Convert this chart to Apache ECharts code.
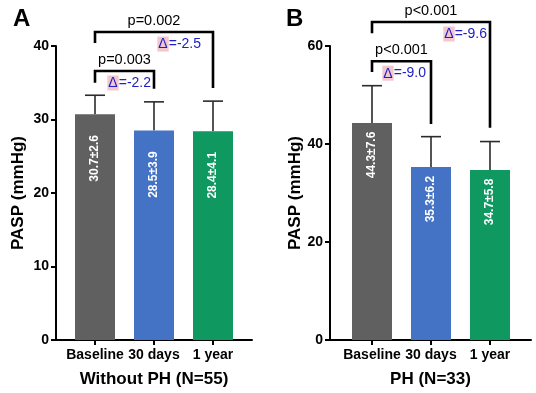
<!DOCTYPE html>
<html>
<head>
<meta charset="utf-8">
<script src="https://cdn.jsdelivr.net/npm/echarts@6/dist/echarts.min.js"></script>
<style>html,body{margin:0;padding:0;background:#fff}#c{width:536px;height:393px}</style>
</head>
<body>
<div id="c"></div>
<script>
// ---- data ----
var categories = ['Baseline', '30 days', '1 year'];
var meanA = [30.7, 28.5, 28.4];
var sdA = [2.6, 3.9, 4.1];
var meanB = [44.3, 35.3, 34.7];
var sdB = [7.6, 6.2, 5.8];
var barColors = ['#606060', '#4472c4', '#0f9960'];
var yTicksA = [0, 10, 20, 30, 40];
var yTicksB = [0, 20, 40, 60];
var titleA = 'Without PH (N=55)';
var titleB = 'PH (N=33)';
// comparisons: from index, to index, p text, delta text
var compFromA = [0, 0], compToA = [1, 2], compPA = ['p=0.003', 'p=0.002'], compDeltaA = ['-2.2', '-2.5'];
var compFromB = [0, 0], compToB = [1, 2], compPB = ['p<0.001', 'p<0.001'], compDeltaB = ['-9.0', '-9.6'];

// ---- layout (not data) ----
var FONT = '"Liberation Sans", Arial, sans-serif';
var bracketA = [ {top: 36.6, lb: 35.0, rb: 34.2, gap: 3}, {top: 41.9, lb: 40.4, rb: 34.3, gap: 12} ];
var bracketB = [ {top: 56.9, lb: 54.7, rb: 44.1, gap: 5}, {top: 64.9, lb: 62.6, rb: 43.3, gap: 3} ];

function fmt(m, s) { return m.toFixed(1) + '±' + s.toFixed(1); }

function makeBars(mean, sd, idx, labelOffset) {
  return {
    type: 'bar', xAxisIndex: idx, yAxisIndex: idx, barWidth: 40, silent: true,
    data: mean.map(function (v, i) {
      return { value: [i, v], itemStyle: { color: barColors[i] } };
    }),
    label: {
      show: true, rotate: 90, position: ['50%', labelOffset], align: 'center', verticalAlign: 'middle',
      color: '#fff', fontSize: 12, fontWeight: 'bold', fontFamily: FONT,
      formatter: function (p) { return fmt(mean[p.dataIndex], sd[p.dataIndex]); }
    },
    z: 2
  };
}

function makeErr(mean, sd, idx) {
  return {
    type: 'custom', xAxisIndex: idx, yAxisIndex: idx, silent: true, z: 1,
    data: mean.map(function (v, i) { return [i, v, v + sd[i]]; }),
    renderItem: function (params, api) {
      var b = api.coord([api.value(0), api.value(1)]);
      var t = api.coord([api.value(0), api.value(2)]);
      var st = { stroke: '#2b2b2b', lineWidth: 1.6 };
      return { type: 'group', children: [
        { type: 'line', shape: { x1: b[0], y1: b[1], x2: t[0], y2: t[1] }, style: st },
        { type: 'line', shape: { x1: t[0] - 10, y1: t[1], x2: t[0] + 10, y2: t[1] }, style: st }
      ]};
    }
  };
}

function makeBrackets(from, to, ptxt, dtxt, br, idx) {
  return {
    type: 'custom', xAxisIndex: idx, yAxisIndex: idx, silent: true, z: 5, clip: false,
    data: from.map(function (f, i) { return [f, to[i], br[i].top, br[i].lb, br[i].rb]; }),
    renderItem: function (params, api) {
      var i = params.dataIndex;
      var f = api.value(0), t = api.value(1);
      var p1 = api.coord([f, api.value(3)]);
      var p2 = api.coord([f, api.value(2)]);
      var p3 = api.coord([t, api.value(2)]);
      var p4 = api.coord([t, api.value(4)]);
      return { type: 'group', children: [
        { type: 'polyline', shape: { points: [p1, p2, p3, p4] },
          style: { stroke: '#000', lineWidth: 2.6, fill: null, lineJoin: 'miter' } },
        { type: 'text', x: (p2[0] + p3[0]) / 2, y: p2[1] - 11,
          style: { text: ptxt[i], fill: '#000', font: '14.5px ' + FONT, align: 'center', verticalAlign: 'middle' } },
        { type: 'text', x: p3[0] - br[i].gap, y: p2[1] + 12,
          style: { text: '{d|Δ}{t|=' + dtxt[i] + '}', align: 'right', verticalAlign: 'middle',
            rich: {
              d: { fill: '#2020c8', backgroundColor: '#f4c6cd', font: '14px ' + FONT, padding: [1, 1, 0, 1] },
              t: { fill: '#2020c8', font: '14px ' + FONT }
            } } }
      ]};
    }
  };
}

function xAxis(idx, min, max, name) {
  return {
    type: 'value', gridIndex: idx, min: min, max: max,
    name: name, nameLocation: 'middle', nameGap: 31,
    nameTextStyle: { fontSize: 17, fontWeight: 'bold', color: '#000', fontFamily: FONT },
    axisLine: { show: true, onZero: false, lineStyle: { color: '#000', width: 2 } },
    axisTick: { show: true, length: 5, lineStyle: { color: '#000', width: 2 }, customValues: [0, 1, 2] },
    axisLabel: { customValues: [0, 1, 2], margin: 8, fontSize: 14, fontWeight: 'bold', color: '#000', fontFamily: FONT,
      formatter: function (v) { return categories[Math.round(v)]; } },
    splitLine: { show: false }
  };
}

function yAxis(idx, ticks, gap) {
  return {
    type: 'value', gridIndex: idx, min: ticks[0], max: ticks[ticks.length - 1], interval: ticks[1] - ticks[0],
    name: 'PASP (mmHg)', nameLocation: 'middle', nameGap: gap,
    nameTextStyle: { fontSize: 17, fontWeight: 'bold', color: '#000', fontFamily: FONT },
    axisLine: { show: true, onZero: false, lineStyle: { color: '#000', width: 2 } },
    axisTick: { show: true, length: 5, lineStyle: { color: '#000', width: 2 } },
    axisLabel: { margin: 7, fontSize: 14, fontWeight: 'bold', color: '#000', fontFamily: FONT },
    splitLine: { show: false }
  };
}

var chart = echarts.init(document.getElementById('c'), null, { renderer: 'canvas' });
chart.setOption({
  animation: false,
  backgroundColor: '#fff',
  title: [
    { text: 'A', left: 8, top: 2, textStyle: { fontSize: 24, fontWeight: 'bold', color: '#000', fontFamily: FONT } },
    { text: 'B', left: 281, top: 2, textStyle: { fontSize: 24, fontWeight: 'bold', color: '#000', fontFamily: FONT } }
  ],
  grid: [
    { left: 56, top: 46, width: 196, height: 296, containLabel: false },
    { left: 330, top: 46, width: 201, height: 295, containLabel: false }
  ],
  xAxis: [ xAxis(0, -0.661, 2.661, titleA), xAxis(1, -0.712, 2.695, titleB) ],
  yAxis: [ yAxis(0, yTicksA, 29), yAxis(1, yTicksB, 25) ],
  series: [
    makeErr(meanA, sdA, 0),
    makeBars(meanA, sdA, 0, 44),
    makeBrackets(compFromA, compToA, compPA, compDeltaA, bracketA, 0),
    makeErr(meanB, sdB, 1),
    makeBars(meanB, sdB, 1, 32),
    makeBrackets(compFromB, compToB, compPB, compDeltaB, bracketB, 1)
  ]
});
</script>
</body>
</html>
